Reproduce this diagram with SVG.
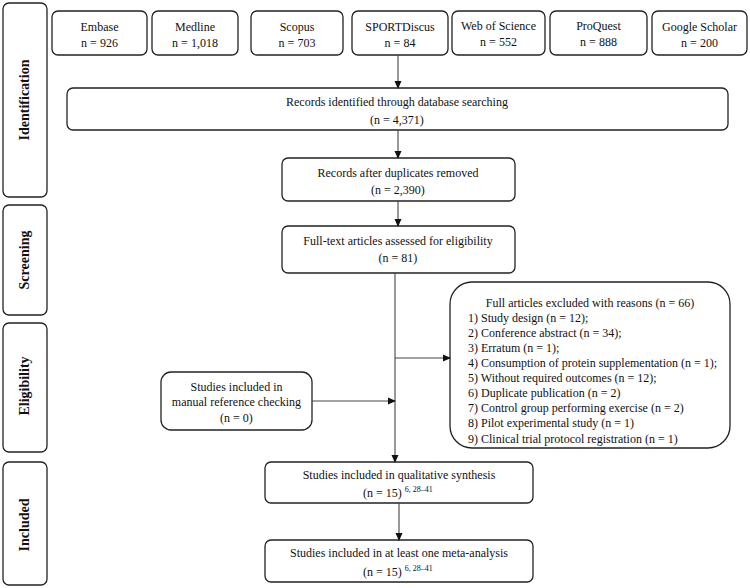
<svg xmlns="http://www.w3.org/2000/svg" width="750" height="588" viewBox="0 0 750 588">
<style>
.b{fill:#fff;stroke:#222;stroke-width:1.3}
.t{font-family:"Liberation Serif",serif;font-size:12px;fill:#111}
.c{text-anchor:middle}
.s{font-family:"Liberation Serif",serif;font-size:14px;font-weight:bold;fill:#111;text-anchor:middle}
.sup{font-size:8px}
.l{stroke:#444;stroke-width:1.1;fill:none}
</style>
<defs>
<marker id="a" markerWidth="8" markerHeight="8" refX="7" refY="4" orient="auto" markerUnits="userSpaceOnUse">
<path d="M0,0.5 L8,4 L0,7.5 Z" fill="#111"/>
</marker>
</defs>
<g id="stages">
<g id="stage-identification"><rect class="b" x="3" y="3" width="44" height="194" rx="6"/><text class="s" transform="translate(29,100) rotate(-90)">Identification</text></g>
<g id="stage-screening"><rect class="b" x="3" y="205" width="44" height="110" rx="6"/><text class="s" transform="translate(29,260) rotate(-90)">Screening</text></g>
<g id="stage-eligibility"><rect class="b" x="3" y="323" width="44" height="129" rx="6"/><text class="s" transform="translate(29,386) rotate(-90)">Eligibility</text></g>
<g id="stage-included"><rect class="b" x="3" y="462" width="44" height="123" rx="6"/><text class="s" transform="translate(29,525) rotate(-90)">Included</text></g>
</g>
<g id="db-embase"><rect class="b" x="52" y="11" width="95" height="44" rx="6"/><text class="t c" x="99.5" y="31">Embase</text><text class="t c" x="99.5" y="47">n = 926</text></g>
<g id="db-medline"><rect class="b" x="152" y="11" width="86" height="44" rx="6"/><text class="t c" x="195" y="31">Medline</text><text class="t c" x="195" y="47">n = 1,018</text></g>
<g id="db-scopus"><rect class="b" x="251" y="11" width="92" height="44" rx="6"/><text class="t c" x="297" y="31">Scopus</text><text class="t c" x="297" y="47">n = 703</text></g>
<g id="db-sportdiscus"><rect class="b" x="352" y="11" width="96" height="44" rx="6"/><text class="t c" x="400" y="31">SPORTDiscus</text><text class="t c" x="400" y="47">n = 84</text></g>
<g id="db-wos"><rect class="b" x="452" y="11" width="93" height="44" rx="6"/><text class="t c" x="498.5" y="30">Web of Science</text><text class="t c" x="498.5" y="46">n = 552</text></g>
<g id="db-proquest"><rect class="b" x="550" y="11" width="97" height="44" rx="6"/><text class="t c" x="598.5" y="30">ProQuest</text><text class="t c" x="598.5" y="46">n = 888</text></g>
<g id="db-google"><rect class="b" x="652" y="11" width="95" height="44" rx="6"/><text class="t c" x="699.5" y="31">Google Scholar</text><text class="t c" x="699.5" y="47">n = 200</text></g>
<g id="records-identified"><rect class="b" x="67" y="88" width="661" height="42" rx="6"/><text class="t c" x="397" y="106">Records identified through database searching</text><text class="t c" x="397" y="124">(n = 4,371)</text></g>
<g id="records-dedup"><rect class="b" x="282" y="158" width="233" height="43" rx="6"/><text class="t c" x="398" y="177">Records after duplicates removed</text><text class="t c" x="398" y="194">(n = 2,390)</text></g>
<g id="fulltext"><rect class="b" x="282" y="226" width="233" height="47" rx="6"/><text class="t c" x="398" y="245">Full-text articles assessed for eligibility</text><text class="t c" x="398" y="262">(n = 81)</text></g>
<g id="excluded"><rect class="b" x="450" y="282" width="280" height="166" rx="22"/>
<text class="t c" x="590" y="307">Full articles excluded with reasons (n = 66)</text>
<text class="t" x="468" y="322">1) Study design (n = 12);</text>
<text class="t" x="468" y="337">2) Conference abstract (n = 34);</text>
<text class="t" x="468" y="352">3) Erratum (n = 1);</text>
<text class="t" x="468" y="367">4) Consumption of protein supplementation (n = 1);</text>
<text class="t" x="468" y="382">5) Without required outcomes (n = 12);</text>
<text class="t" x="468" y="397">6) Duplicate publication (n = 2)</text>
<text class="t" x="468" y="412">7) Control group performing exercise (n = 2)</text>
<text class="t" x="468" y="427">8) Pilot experimental study (n = 1)</text>
<text class="t" x="468" y="443">9) Clinical trial protocol registration (n = 1)</text>
</g>
<g id="manual"><rect class="b" x="161" y="372" width="151" height="58" rx="10"/><text class="t c" x="236.5" y="391">Studies included in</text><text class="t c" x="236.5" y="406">manual reference checking</text><text class="t c" x="236.5" y="422">(n = 0)</text></g>
<g id="qualitative"><rect class="b" x="265" y="462" width="268" height="41" rx="6"/><text class="t c" x="399" y="479">Studies included in qualitative synthesis</text><text class="t" x="363" y="497">(n = 15) <tspan class="sup" dy="-5">6, 28–41</tspan></text></g>
<g id="meta"><rect class="b" x="265" y="540" width="268" height="42" rx="6"/><text class="t c" x="399" y="557">Studies included in at least one meta-analysis</text><text class="t" x="363" y="576">(n = 15) <tspan class="sup" dy="-5">6, 28–41</tspan></text></g>
<g id="connectors">
<line class="l" x1="398" y1="55" x2="398" y2="88" marker-end="url(#a)"/>
<line class="l" x1="398" y1="130" x2="398" y2="158" marker-end="url(#a)"/>
<line class="l" x1="398" y1="201" x2="398" y2="226" marker-end="url(#a)"/>
<line class="l" x1="395" y1="273" x2="395" y2="462" marker-end="url(#a)"/>
<line class="l" x1="395" y1="358" x2="450" y2="358" marker-end="url(#a)"/>
<line class="l" x1="312" y1="401" x2="395" y2="401" marker-end="url(#a)"/>
<line class="l" x1="399" y1="503" x2="399" y2="540" marker-end="url(#a)"/>
</g>
</svg>
